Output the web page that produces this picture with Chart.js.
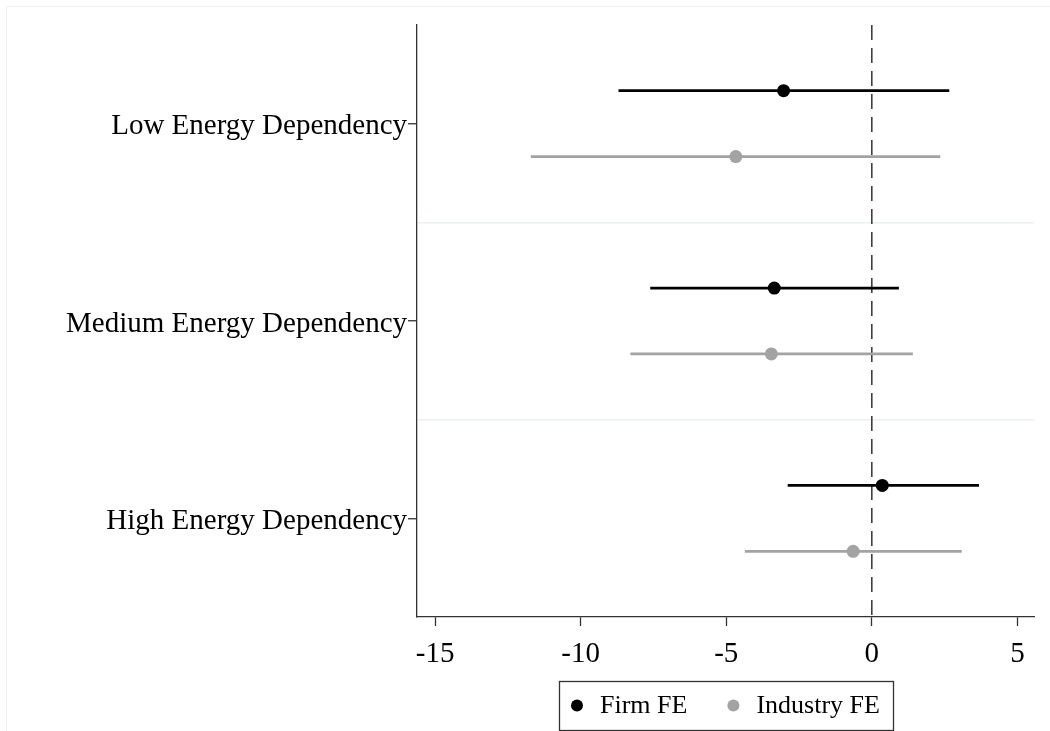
<!DOCTYPE html>
<html>
<head>
<meta charset="utf-8">
<script src="https://cdn.jsdelivr.net/npm/chart.js@4.4.1/dist/chart.umd.min.js"></script>
<style>
    html, body { margin: 0; padding: 0; background: #ffffff; }
    #wrap { width: 1050px; height: 731px; }
</style>
</head>
<body>
<div id="wrap"><canvas id="coefChart" width="1050" height="731"></canvas></div>
<script>
const CATEGORIES = ['Low Energy Dependency', 'Medium Energy Dependency', 'High Energy Dependency'];
const SERIES     = ['Firm FE', 'Industry FE'];

const FIRM_COEF = [-3.03, -3.35, 0.36];
const FIRM_LOW  = [-8.70, -7.61, -2.89];
const FIRM_HIGH = [2.66, 0.93, 3.68];

const INDUSTRY_COEF = [-4.67, -3.45, -0.64];
const INDUSTRY_LOW  = [-11.71, -8.29, -4.36];
const INDUSTRY_HIGH = [2.35, 1.41, 3.09];

const X_TICKS = [-15, -10, -5, 0, 5];

const FONT  = 'Liberation Serif';
const BLACK = '#000000';
const GREY  = '#a3a3a3';
const AXIS  = '#333333';
const SHIFT = 0.167;

function ciDatasets(low, high, shift, color)
{
    return CATEGORIES.map((_, i) => ({
        type: 'line',
        data: [{ x: low[i], y: i + shift }, { x: high[i], y: i + shift }],
        borderColor: color,
        borderWidth: 2.7,
        pointRadius: 0,
        order: 2
    }));
}

function pointDataset(label, coef, shift, color)
{
    return {
        type: 'scatter',
        label: label,
        data: coef.map((v, i) => ({ x: v, y: i + shift })),
        backgroundColor: color,
        borderColor: color,
        borderWidth: 0,
        pointRadius: 6.5,
        pointBorderWidth: 0,
        pointHoverRadius: 6.5,
        order: 1
    };
}

const zeroLine = {
    type: 'line',
    data: [{ x: 0, y: -0.5 }, { x: 0, y: CATEGORIES.length - 0.5 }],
    borderColor: AXIS,
    borderWidth: 1.5,
    borderDash: [15, 8],
    pointRadius: 0,
    order: 3
};

// faint outer frame + white background
const backgroundPlugin = {
    id: 'bg',
    beforeDraw(chart)
    {
        const ctx = chart.ctx;
        ctx.save();
        ctx.fillStyle = '#ffffff';
        ctx.fillRect(0, 0, chart.width, chart.height);
        ctx.strokeStyle = '#efefef';
        ctx.lineWidth = 1;
        ctx.beginPath();
        ctx.moveTo(6.5, chart.height);
        ctx.lineTo(6.5, 6.5);
        ctx.lineTo(chart.width, 6.5);
        ctx.stroke();
        ctx.restore();
    }
};

// stata style legend in a framed box under the plot
const boxLegendPlugin = {
    id: 'boxLegend',
    afterDraw(chart)
    {
        const ctx = chart.ctx;
        const area = chart.chartArea;
        const items = chart.data.datasets.filter(d => SERIES.includes(d.label));

        ctx.save();
        ctx.font = `26px "${FONT}"`;

        const pad = 12, dot = 12, gap = 17, itemGap = 40;
        const widths = items.map(d => ctx.measureText(d.label).width);
        const total = pad * 2 + 1 + widths.reduce((a, w) => a + dot + gap + w, 0) + itemGap * (items.length - 1);

        const left = Math.round((area.left + area.right) / 2 - total / 2);
        const top = 681, height = 49;
        const mid = top + height / 2;

        ctx.strokeStyle = AXIS;
        ctx.lineWidth = 1.3;
        ctx.strokeRect(left + 0.5, top + 0.5, Math.round(total), height);

        let x = left + pad;
        ctx.textBaseline = 'middle';
        items.forEach((d, i) => {
            ctx.fillStyle = d.backgroundColor;
            ctx.beginPath();
            ctx.arc(x + dot / 2, mid, dot / 2, 0, Math.PI * 2);
            ctx.fill();

            ctx.fillStyle = BLACK;
            ctx.fillText(d.label, x + dot + gap, mid + 1);
            x += dot + gap + widths[i] + itemGap;
        });
        ctx.restore();
    }
};

const ctx = document.getElementById('coefChart').getContext('2d');

new Chart(ctx, {
    data: {
        datasets: [
            pointDataset(SERIES[0], FIRM_COEF, -SHIFT, BLACK),
            pointDataset(SERIES[1], INDUSTRY_COEF, SHIFT, GREY),
            ...ciDatasets(FIRM_LOW, FIRM_HIGH, -SHIFT, BLACK),
            ...ciDatasets(INDUSTRY_LOW, INDUSTRY_HIGH, SHIFT, GREY),
            zeroLine
        ]
    },
    options: {
        responsive: false,
        animation: false,
        layout: { padding: { left: 0, right: 16, top: 25, bottom: 54 } },
        plugins: {
            tooltip: { enabled: false },
            legend: { display: false }
        },
        scales: {
            x: {
                type: 'linear',
                min: -15.62,
                max: 5.57,
                afterBuildTicks: scale => { scale.ticks = X_TICKS.map(v => ({ value: v })); },
                afterFit: scale => { scale.height = 60; },
                ticks: {
                    color: BLACK,
                    padding: 11,
                    font: { family: FONT, size: 29 },
                    callback: v => String(v)
                },
                grid: {
                    drawOnChartArea: false,
                    drawTicks: true,
                    tickLength: 9,
                    tickColor: AXIS,
                    tickWidth: 1.3
                },
                border: { display: true, color: AXIS, width: 1.3 }
            },
            y: {
                type: 'linear',
                reverse: true,
                min: -0.5,
                max: CATEGORIES.length - 0.5,
                afterBuildTicks: scale => {
                    const t = [];
                    for (let v = -0.5; v <= CATEGORIES.length - 0.5; v += 0.5) t.push({ value: v });
                    scale.ticks = t;
                },
                afterFit: scale => { scale.width = 417; },
                ticks: {
                    autoSkip: false,
                    color: BLACK,
                    padding: 1,
                    labelOffset: 3,
                    font: { family: FONT, size: 29 },
                    callback: v => Number.isInteger(v) ? CATEGORIES[v] : ''
                },
                grid: {
                    drawTicks: true,
                    tickLength: 9,
                    lineWidth: 1.5,
                    tickWidth: 1.3,
                    color: c => {
                        const v = c.tick ? c.tick.value : null;
                        return (v !== null && !Number.isInteger(v) && v > -0.5 && v < CATEGORIES.length - 0.5) ? '#e9f1f2' : 'rgba(0,0,0,0)';
                    },
                    tickColor: c => (c.tick && Number.isInteger(c.tick.value)) ? AXIS : 'rgba(0,0,0,0)'
                },
                border: { display: true, color: AXIS, width: 1.3 }
            }
        }
    },
    plugins: [backgroundPlugin, boxLegendPlugin]
});
</script>
</body>
</html>
